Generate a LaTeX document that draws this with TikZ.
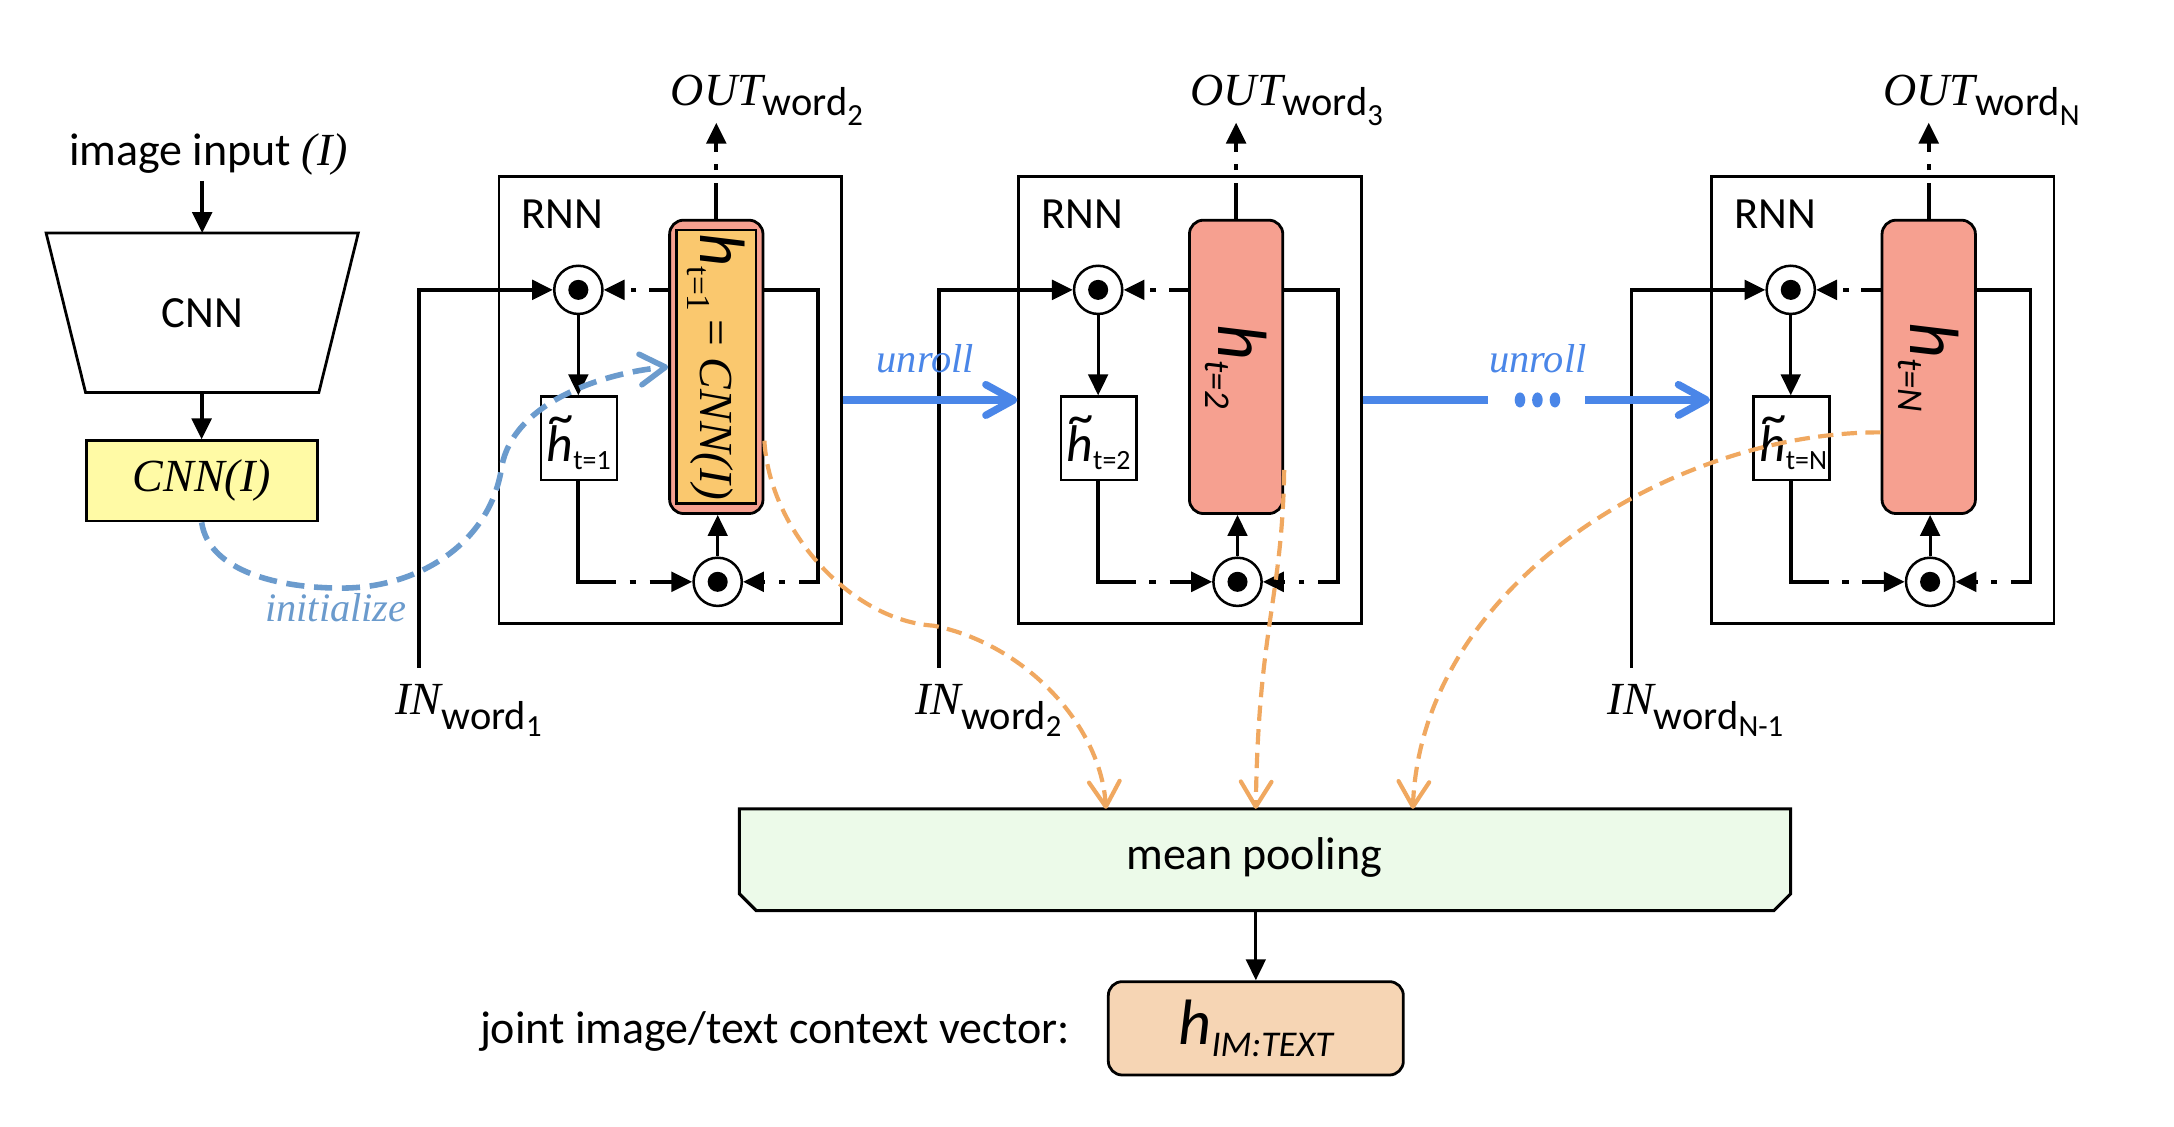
\documentclass[tikz,border=0pt]{standalone}
\usepackage{fontspec}
\setmainfont{Liberation Serif}
\setsansfont{Carlito}
\usetikzlibrary{arrows.meta,calc}

\definecolor{hsalmon}{HTML}{F6A090}
\definecolor{horange}{HTML}{FAC86E}
\definecolor{cyellow}{HTML}{FFFAA5}
\definecolor{mpgreen}{HTML}{ECFAE9}
\definecolor{himpeach}{HTML}{F6D5B4}
\definecolor{ublue}{HTML}{4A86E8}
\definecolor{iblue}{HTML}{6B9BCD}
\definecolor{oorange}{HTML}{F0A860}

\newcommand\fsz[1]{\fontsize{#1}{#1}\selectfont}
\newcommand\outlbl[1]{{\rmfamily\itshape\fsz{16.5}OUT}\raisebox{-3.8pt}{\sffamily\fsz{14.5}word\raisebox{-3.5pt}{\fsz{11}#1}}}
\newcommand\inlbl[1]{{\rmfamily\itshape\fsz{16.5}IN}\raisebox{-5.4pt}{\sffamily\fsz{14.5}word\raisebox{-2.4pt}{\fsz{11}#1}}}
\newcommand\htil[1]{{\sffamily\itshape\fsz{18.5}\rlap{\kern1pt\raisebox{0.52em}{\textasciitilde}}h}\raisebox{-3pt}{\sffamily\fsz{10}#1}}
\newcommand\hbigsym{{\sffamily\itshape\fsz{25}h}}

\newcommand\RNNcell[7]{%
\begin{scope}[xshift={#2*0.5pt}]
 \node[rnnframe] (fr#1) at (481,287) {};
 \node[txt, anchor=base west, font=\sffamily\fsz{16}] (rnn#1) at (374,164) {RNN};
 \node[hblk] (h#1) at (514,263.25) {};
 #3
 \node[txt, rotate=-90] (hl#1) at (h#1.center) {#4};
 \node[odot] (ct#1) at (415,208) {};
 \node[odot] (cb#1) at (515,417.5) {};
 \node[htbox] (ht#1) at (415.5,314.5) {};
 \node[txt, anchor=base west] (htl#1) at (392,331) {\htil{#5}};
 \coordinate (inb#1) at (300.7,479);
 \coordinate (lr#1) at (587,417.5);
 \coordinate (ot#1) at (514,88);
 \node[txt, anchor=base west] (outl#1) at (481,75.4) {\outlbl{#6}};
 \node[txt, anchor=base west] (inl#1) at (283.4,513) {\inlbl{#7}};
\end{scope}
 \draw[conn, btip] (inb#1) |- (ct#1.west);
 \draw[conn, btip, dash pattern=on 7pt off 4.5pt on 2pt off 3.5pt on 20pt off 1pt] (h#1.west |- ct#1.center) -- (ct#1.east);
 \draw[connthin, btip] (ct#1.south) -- (ct#1.south |- ht#1.north);
 \draw[conn, btip, dash pattern=on 131pt off 5pt on 2pt off 5pt on 40pt off 1pt] (h#1.east |- ct#1.center) -| (lr#1) -- (cb#1.east);
 \draw[conn, btip, dash pattern=on 49.7pt off 4.8pt on 2.4pt off 4.8pt on 40pt off 1pt] (ct#1.south |- ht#1.south) |- (cb#1.west);
 \draw[connthin, btip] (cb#1.north) -- (cb#1.north |- h#1.south);
 \draw[conn, btip, dash pattern=on 13pt off 4.5pt on 2pt off 4.5pt on 20pt off 1pt] (h#1.north) -- (ot#1);
}

\begin{document}
\begin{tikzpicture}[x=0.5pt,y=-0.5pt,
  rnnframe/.style={draw, line width=0.95pt, minimum width=123pt, minimum height=160.5pt, inner sep=0pt},
  hblk/.style={draw, line width=1pt, fill=hsalmon, rounded corners=5pt, minimum width=33.5pt, minimum height=105.25pt, inner sep=0pt},
  hinner/.style={draw, line width=0.8pt, fill=horange, minimum width=28.5pt, minimum height=98pt, inner sep=0pt},
  odot/.style={circle, draw, line width=0.9pt, fill=white, minimum size=17.3pt, inner sep=0pt, path picture={\fill[black] (path picture bounding box.center) circle (3.6pt);}},
  htbox/.style={draw, line width=0.9pt, fill=white, minimum width=27.15pt, minimum height=29.9pt, inner sep=0pt},
  conn/.style={line width=1.4pt},
  connthin/.style={line width=1.1pt},
  btip/.style={-{Triangle[length=7.5pt,width=7pt]}},
  txt/.style={inner sep=0pt},
  uline/.style={ublue, line width=2.65pt},
  uarrow/.style={uline, -{Straight Barb[length=10pt,width=11pt,round]}},
  orcurve/.style={oorange, line width=1.5pt, dash pattern=on 5.5pt off 3pt, -{Straight Barb[length=9pt,width=11pt,round]}},
  incurve/.style={iblue, line width=2pt, dash pattern=on 6.5pt off 3.5pt, -{Straight Barb[length=9pt,width=11pt,round]}},
]
\useasboundingbox[fill=white] (0,0) rectangle (1560,808);

% CNN branch
\node[txt, inner sep=1.7pt, anchor=base, font=\fsz{16.5}] (imgin) at (149.5,119) {\sffamily image input \rmfamily\itshape(I)};
\node[minimum width=111.6pt, minimum height=56.8pt, inner sep=0pt, font=\sffamily\fsz{16}] (cnn) at (145.1,224.4) {CNN};
\draw[line width=1pt] (cnn.north west) -- (cnn.north east) -- ([xshift=-14.15pt]cnn.south east) -- ([xshift=14.15pt]cnn.south west) -- cycle;
\node[draw, fill=cyellow, line width=1pt, minimum width=82.9pt, minimum height=28.8pt, inner sep=0pt, font=\rmfamily\itshape\fsz{16.5}] (cnni) at (144.7,345.1) {CNN(I)};
\draw[conn, btip] (cnn.north |- imgin.south) -- (cnn.north);
\draw[conn, btip] (cnn.south -| cnni.north) -- (cnni.north);

% RNN cells
\RNNcell{1}{0}{\node[hinner] (hin1) at (h1.center) {};}{{\sffamily\itshape\fsz{23}h}\raisebox{-4.5pt}{\rmfamily\fsz{12}t=1}\hspace{3pt}{\rmfamily\fsz{17}=\hspace{4pt}\itshape CNN(I)}}{t=1}{2}{1}
\RNNcell{2}{373}{}{\hbigsym\raisebox{-4.5pt}{\sffamily\itshape\fsz{13}t=2}}{t=2}{3}{2}
\RNNcell{3}{870}{}{\hbigsym\raisebox{-4.5pt}{\sffamily\itshape\fsz{13}t=N}}{t=N}{N}{N-1}

% unroll arrows
\draw[uarrow] (fr1.east) -- (fr2.west);
\coordinate (ud1) at (1068,287);
\coordinate (ud2) at (1137.4,287);
\draw[uline] (fr2.east) -- (ud1);
\foreach \xx in {1090.7,1103.2,1115.8} \fill[ublue] (\xx,287) ellipse (1.9pt and 2.7pt);
\draw[uarrow] (ud2) -- (fr3.west);
\node[txt, anchor=base, text=ublue, font=\rmfamily\itshape\fsz{14.5}] (unr1) at (664,267) {unroll};
\node[txt, anchor=base, text=ublue, font=\rmfamily\itshape\fsz{14.5}] (unr2) at (1103.5,267) {unroll};

% mean pooling
\node[minimum width=376.75pt, minimum height=36.1pt, inner sep=0pt] (mp) at (907.75,616.9) {};
\draw[fill=mpgreen, line width=1.1pt] (mp.north west) -- (mp.north east) -- ([yshift=6pt]mp.south east) -- ([xshift=-6pt]mp.south east) -- ([xshift=6pt]mp.south west) -- ([yshift=6pt]mp.south west) -- cycle;
\node[txt, anchor=base, font=\sffamily\fsz{16.5}] (mpl) at (900,624) {mean pooling};

% joint vector
\node[draw, fill=himpeach, rounded corners=5pt, line width=1pt, minimum width=105.85pt, minimum height=33.5pt, inner sep=0pt] (him) at (901.15,737.9) {{\sffamily\itshape\fsz{23}h}\raisebox{-4.5pt}{\sffamily\itshape\fsz{13}IM:TEXT}};
\draw[connthin, btip] (him.north |- mp.south) -- (him.north);
\node[txt, anchor=base east, font=\sffamily\fsz{16.5}] (jlbl) at (768,748.5) {joint image/text context vector:};

% initialize curve
\draw[incurve] (cnni.south) .. controls (150,410) and (200,422) .. (245,422) .. controls (300,422) and (352,390) .. (360,335) .. controls (368,290) and (430,268) .. (h1.west);
\node[txt, anchor=base, text=iblue, font=\rmfamily\itshape\fsz{14.5}] (initl) at (241,446) {initialize};

% pooling curves
\draw[orcurve] ($(h1.east)+(0,53)$) .. controls (552,380) and (610,445) .. (670,449) .. controls (735,462) and (790,520) .. ([xshift=131.5pt]mp.north west);
\draw[orcurve] ($(h2.east)+(0,74)$) .. controls (920,430) and (903,450) .. ([xshift=185.25pt]mp.north west);
\draw[orcurve] ($(h3.west)+(0,47)$) .. controls (1200,310) and (1020,420) .. ([xshift=241.6pt]mp.north west);
\end{tikzpicture}
\end{document}
